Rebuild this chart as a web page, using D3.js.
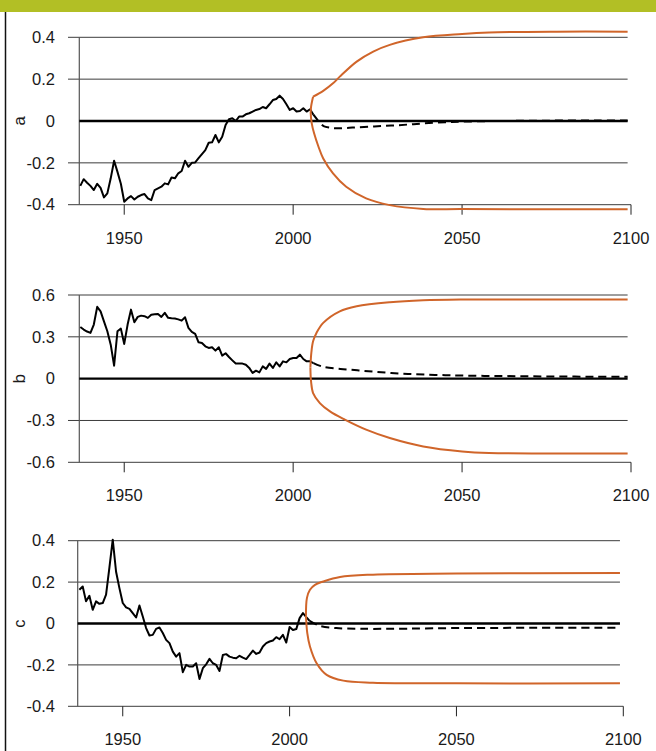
<!DOCTYPE html>
<html><head><meta charset="utf-8">
<script src="https://cdn.jsdelivr.net/npm/d3@7"></script>
<style>
body{margin:0;background:#fff}
svg{display:block}
text{font-family:"Liberation Sans",Arial,Helvetica,sans-serif;fill:#1a1a1a}
</style>
</head><body>
<svg id="chart" width="656" height="751"></svg>
<script>
// ---------------- DATA ----------------
const histYears = d3.range(1937, 2007);

const histA = [-0.31,-0.278,-0.295,-0.31,-0.33,-0.30,-0.32,-0.365,-0.346,-0.274,
  -0.19,-0.243,-0.30,-0.386,-0.37,-0.359,-0.375,-0.362,-0.354,-0.349,
  -0.37,-0.378,-0.33,-0.322,-0.314,-0.298,-0.303,-0.27,-0.274,-0.25,
  -0.239,-0.19,-0.219,-0.20,-0.198,-0.178,-0.158,-0.139,-0.104,-0.102,
  -0.067,-0.102,-0.075,-0.019,0.008,0.013,0.0,0.021,0.021,0.032,
  0.037,0.045,0.053,0.057,0.067,0.061,0.08,0.10,0.105,0.121,
  0.105,0.08,0.053,0.061,0.045,0.048,0.061,0.045,0.056,0.03];

const histB = [0.371,0.352,0.338,0.328,0.388,0.515,0.483,0.411,0.34,0.244,
  0.093,0.34,0.359,0.249,0.388,0.495,0.404,0.443,0.452,0.448,
  0.436,0.459,0.462,0.464,0.443,0.472,0.436,0.433,0.431,0.425,
  0.416,0.44,0.364,0.335,0.321,0.261,0.256,0.232,0.22,0.225,
  0.201,0.225,0.165,0.182,0.155,0.131,0.108,0.108,0.108,0.1,
  0.077,0.041,0.057,0.045,0.088,0.07,0.108,0.077,0.117,0.088,
  0.124,0.117,0.141,0.148,0.148,0.172,0.141,0.124,0.124,0.112];

const histC = [0.163,0.179,0.107,0.134,0.066,0.107,0.095,0.099,0.139,0.27,
  0.405,0.25,0.171,0.099,0.078,0.071,0.05,0.029,0.087,0.034,
  -0.022,-0.058,-0.055,-0.026,-0.019,-0.046,-0.079,-0.095,-0.136,-0.16,
  -0.143,-0.235,-0.2,-0.208,-0.208,-0.192,-0.268,-0.216,-0.197,-0.171,
  -0.192,-0.2,-0.229,-0.152,-0.148,-0.16,-0.165,-0.168,-0.156,-0.165,
  -0.172,-0.152,-0.131,-0.147,-0.14,-0.111,-0.095,-0.087,-0.082,-0.066,
  -0.076,-0.055,-0.092,-0.017,-0.031,-0.027,0.026,0.05,0.031,0.013];

// projections (dashed mean)
const fcYearsA = [2006,2008,2009,2011,2013,2016,2019,2024,2029,2034,2039,2045,2050,2060,2070,2080,2090,2099];
const fcA = [0.03,-0.01,-0.024,-0.032,-0.035,-0.033,-0.03,-0.026,-0.022,-0.017,-0.011,-0.006,-0.003,0.0,0.001,0.002,0.002,0.002];
const fcYearsB = [2006,2009,2014,2019,2024,2029,2034,2039,2045,2050,2060,2070,2080,2090,2099];
const fcB = [0.112,0.084,0.07,0.06,0.05,0.041,0.034,0.029,0.025,0.022,0.019,0.017,0.015,0.014,0.014];
const fcYearsC = [2006,2009,2014,2020,2025,2035,2050,2070,2099];
const fcC = [0.013,-0.011,-0.022,-0.025,-0.026,-0.025,-0.022,-0.021,-0.021];

// uncertainty envelope (orange)
const upYearsA = [2005.9,2008.9,2011.8,2013.8,2018.8,2023.7,2028.6,2038.5,2050,2058,2078,2099];
const upA = [0.116,0.144,0.18,0.212,0.284,0.332,0.364,0.40,0.416,0.423,0.427,0.427];
const loYearsA = [2005.9,2005.3,2005.2,2005.5,2006.2,2007.5,2008.9,2011.8,2015.7,2021.6,2028.6,2038.5,2050,2099];
const loA = [0.116,0.068,0.037,-0.011,-0.059,-0.123,-0.179,-0.25,-0.314,-0.37,-0.402,-0.42,-0.421,-0.422];

const upYearsB = [2005.1,2005.4,2005.9,2006.9,2008.9,2013.8,2018.8,2028.6,2038.5,2050,2070,2099];
const upB = [0.08,0.19,0.268,0.328,0.40,0.483,0.519,0.548,0.562,0.567,0.567,0.567];
const loYearsB = [2005.1,2005.3,2005.9,2007.9,2010.9,2015.3,2021.6,2028.6,2038.5,2050,2058,2099];
const loB = [0.08,-0.02,-0.103,-0.175,-0.235,-0.294,-0.366,-0.426,-0.486,-0.522,-0.533,-0.536];

const upYearsC = [2004.9,2005.2,2006.1,2007.6,2010.1,2015.1,2025,2050,2099];
const upC = [0.04,0.124,0.163,0.187,0.203,0.225,0.236,0.241,0.244];
const loYearsC = [2004.9,2005.3,2006.1,2008.1,2011.1,2016.1,2025,2050,2099];
const loC = [0.04,-0.047,-0.111,-0.192,-0.248,-0.276,-0.286,-0.289,-0.289];

const xTicks = [1950, 2000, 2050, 2100];
const yTicksA = [-0.4, -0.2, 0, 0.2, 0.4];
const yTicksB = [-0.6, -0.3, 0, 0.3, 0.6];
const yTicksC = [-0.4, -0.2, 0, 0.2, 0.4];
const panelLabels = ["a", "b", "c"];

// ---------------- LAYOUT ----------------
const panels = [
  {label: panelLabels[0], hist: histA, fcYears: fcYearsA, fc: fcA, upYears: upYearsA, up: upA, loYears: loYearsA, lo: loA,
   yTicks: yTicksA, yDomain: [-0.4, 0.4], yRange: [204.7, 37.3], xDomain: [1936.7, 2100], xRange: [79.3, 631]},
  {label: panelLabels[1], hist: histB, fcYears: fcYearsB, fc: fcB, upYears: upYearsB, up: upB, loYears: loYearsB, lo: loB,
   yTicks: yTicksB, yDomain: [-0.6, 0.6], yRange: [462.3, 295], xDomain: [1936.7, 2100], xRange: [79.3, 631]},
  {label: panelLabels[2], hist: histC, fcYears: fcYearsC, fc: fcC, upYears: upYearsC, up: upC, loYears: loYearsC, lo: loC,
   yTicks: yTicksC, yDomain: [-0.4, 0.4], yRange: [706.3, 540.7], xDomain: [1936.5, 2100], xRange: [77.7, 623.3]}
];

const ORANGE = "#d0652a";
const GRID = "#3c3c3c";
const gridLeft = 68;
const gridEndYear = 2099;

const svg = d3.select("#chart");

// top green band and left rule
svg.append("rect").attr("x", 0).attr("y", 0).attr("width", 656).attr("height", 12).attr("fill", "#b2bf25");
svg.append("line").attr("x1", 5.5).attr("x2", 5.5).attr("y1", 12).attr("y2", 751)
  .attr("stroke", "#111").attr("stroke-width", 1.5);

panels.forEach(p => {
  const x = d3.scaleLinear().domain(p.xDomain).range(p.xRange);
  const y = d3.scaleLinear().domain(p.yDomain).range(p.yRange);
  const g = svg.append("g");
  const x0 = p.xRange[0];
  const yMin = p.yDomain[0];

  // horizontal gridlines (non-zero)
  p.yTicks.filter(t => t !== 0).forEach(t => {
    g.append("line")
      .attr("x1", gridLeft)
      .attr("x2", t === yMin ? x(2100) : x(gridEndYear))
      .attr("y1", y(t)).attr("y2", y(t))
      .attr("stroke", GRID).attr("stroke-width", 1);
  });

  // y axis line
  g.append("line").attr("x1", x0).attr("x2", x0)
    .attr("y1", y(p.yDomain[1])).attr("y2", y(yMin))
    .attr("stroke", "#555").attr("stroke-width", 1.2);

  // x ticks
  xTicks.forEach(t => {
    g.append("line").attr("x1", x(t)).attr("x2", x(t))
      .attr("y1", y(yMin)).attr("y2", y(yMin) + 10)
      .attr("stroke", "#222").attr("stroke-width", 1);
    g.append("text").attr("x", x(t)).attr("y", y(yMin) + 39)
      .attr("text-anchor", "middle").attr("font-size", 16.5).text(String(t));
  });

  // y tick labels
  p.yTicks.forEach(t => {
    g.append("text").attr("x", 55).attr("y", y(t))
      .attr("dy", "0.35em").attr("text-anchor", "end")
      .attr("font-size", 16.5).text(String(t));
  });

  // y axis label
  g.append("text")
    .attr("transform", `translate(25,${y(0)}) rotate(-90)`)
    .attr("text-anchor", "middle").attr("font-size", 16.5).text(p.label);

  // zero line
  g.append("line").attr("x1", x0).attr("x2", x(gridEndYear))
    .attr("y1", y(0)).attr("y2", y(0))
    .attr("stroke", "#000").attr("stroke-width", 2.4);

  const line = d3.line().x(d => x(d[0])).y(d => y(d[1]));
  const smooth = d3.line().x(d => x(d[0])).y(d => y(d[1])).curve(d3.curveCatmullRom.alpha(0.5));

  // historical series
  g.append("path").datum(histYears.map((yr, i) => [yr, p.hist[i]]))
    .attr("d", line).attr("fill", "none").attr("stroke", "#000")
    .attr("stroke-width", 2).attr("stroke-linejoin", "round");

  // projection mean (dashed)
  g.append("path").datum(p.fcYears.map((yr, i) => [yr, p.fc[i]]))
    .attr("d", smooth).attr("fill", "none").attr("stroke", "#000")
    .attr("stroke-width", 2).attr("stroke-dasharray", "8,5");

  // envelope
  g.append("path").datum(p.upYears.map((yr, i) => [yr, p.up[i]]))
    .attr("d", smooth).attr("fill", "none").attr("stroke", ORANGE).attr("stroke-width", 2);
  g.append("path").datum(p.loYears.map((yr, i) => [yr, p.lo[i]]))
    .attr("d", smooth).attr("fill", "none").attr("stroke", ORANGE).attr("stroke-width", 2);
});
</script>
</body></html>
